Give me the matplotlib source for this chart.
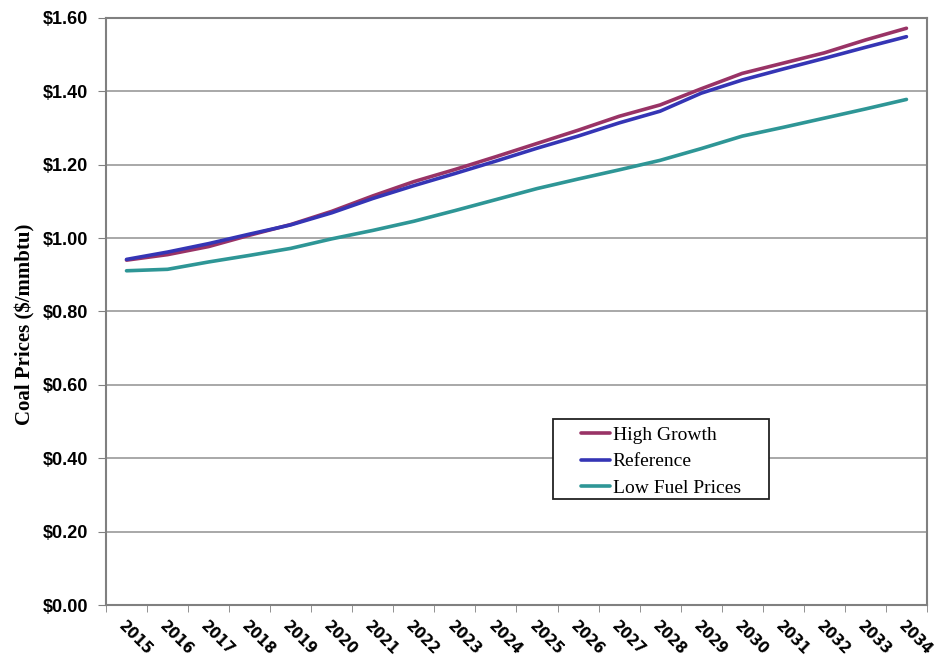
import numpy as np
import matplotlib
matplotlib.use("Agg")
import matplotlib.pyplot as plt
from matplotlib.patches import Rectangle
from matplotlib.ticker import FixedLocator, FuncFormatter

years = [str(y) for y in range(2015, 2035)]

high_growth = [0.940, 0.955, 0.977, 1.008, 1.037, 1.073, 1.115, 1.154, 1.187, 1.222,
               1.258, 1.294, 1.332, 1.363, 1.407, 1.449, 1.477, 1.505, 1.540, 1.572]
reference = [0.942, 0.962, 0.985, 1.011, 1.036, 1.069, 1.108, 1.143, 1.176, 1.210,
             1.245, 1.278, 1.314, 1.346, 1.395, 1.431, 1.461, 1.490, 1.520, 1.549]
low_fuel = [0.911, 0.915, 0.935, 0.953, 0.972, 0.998, 1.021, 1.046, 1.075, 1.105,
            1.135, 1.161, 1.186, 1.212, 1.244, 1.278, 1.302, 1.327, 1.352, 1.378]

series = [("High Growth", high_growth, "#993366"),
          ("Reference", reference, "#3535B5"),
          ("Low Fuel Prices", low_fuel, "#2E9696")]

fig = plt.figure(figsize=(9.43, 6.61), dpi=100)
ax = fig.add_axes([0.1124, 0.0847, 0.8706, 0.8881])

x = np.arange(len(years))
for name, vals, col in series:
    ax.plot(x, vals, color=col, lw=2.6, label=name, solid_capstyle="round")

ax.set_xlim(-0.5, len(years) - 0.5)
ax.set_ylim(0, 1.6)
ax.set_yticks(np.arange(0, 1.61, 0.2))
ax.yaxis.set_major_formatter(FuncFormatter(lambda v, p: "\\$%.2f" % v))
ax.grid(axis="y", color="#999999", lw=1.2)
ax.set_axisbelow(True)

# category labels at centers, tick marks on the boundaries
ax.set_xticks(x)
ax.set_xticklabels(years)
ax.xaxis.set_minor_locator(FixedLocator(np.arange(-0.5, len(years), 1)))
ax.tick_params(axis="x", which="major", length=0, pad=10)
ax.tick_params(axis="x", which="minor", length=5, color="#808080", direction="out")
ax.tick_params(axis="y", length=6, color="#808080", direction="out", pad=7)
for lab in ax.get_xticklabels():
    lab.set_rotation(-45)
    lab.set_ha("left")
    lab.set_va("top")
    lab.set_rotation_mode("anchor")
    lab.set_fontfamily("Liberation Sans Narrow")
    lab.set_fontweight("bold")
    lab.set_fontsize(10.5)
for lab in ax.get_yticklabels():
    lab.set_fontfamily("Liberation Sans")
    lab.set_fontweight("bold")
    lab.set_fontsize(13)

for sp in ax.spines.values():
    sp.set_color("#808080")
    sp.set_linewidth(1.5)

ax.set_ylabel("Coal Prices (\\$/mmbtu)", fontfamily="Liberation Serif",
              fontweight="bold", fontsize=15)
ax.yaxis.set_label_coords(-0.086, 0.479)

# legend box drawn separately so the entries can sit indented inside it
ax.add_patch(Rectangle((0.5445, 0.1806), 0.2631, 0.1363, transform=ax.transAxes,
                       facecolor="white", edgecolor="#222222", lw=1.3, zorder=4))
leg = ax.legend(loc="upper left", bbox_to_anchor=(0.578, 0.305),
                prop={"family": "Liberation Serif", "size": 14},
                frameon=False, handlelength=1.5, handletextpad=0.15,
                borderpad=0, labelspacing=0.47, borderaxespad=0)
leg.set_zorder(5)

fig.savefig("out.png", dpi=100)
